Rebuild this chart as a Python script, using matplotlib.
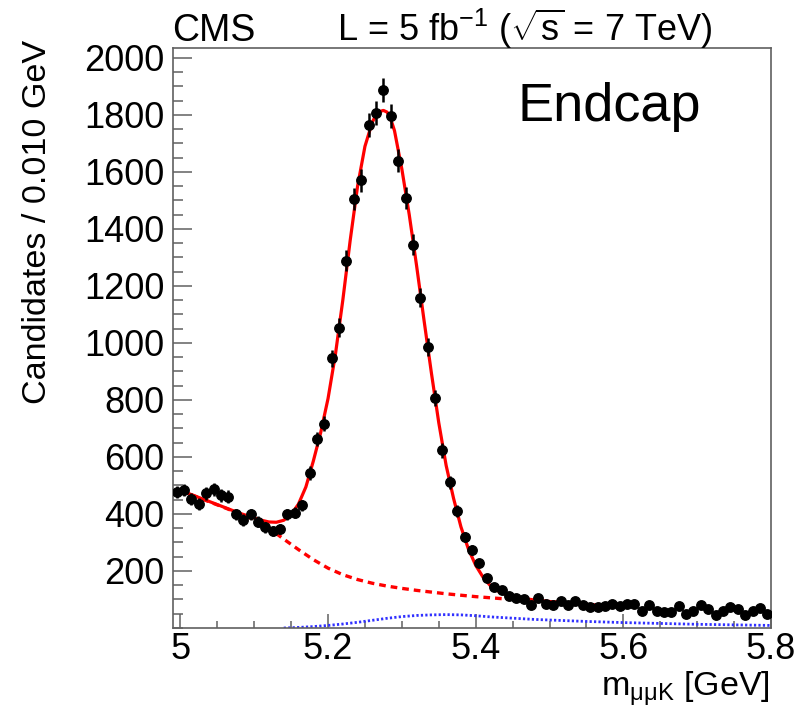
#!/usr/bin/env python3
"""
B+ -> J/psi K+ invariant mass fit, CMS endcap sample (ROOT-style plot)
"""

import matplotlib
matplotlib.use("Agg")
import matplotlib.pyplot as plt
from matplotlib.ticker import MultipleLocator
import numpy as np

# --- Data: candidates per 0.010 GeV bin, first bin centred at 4.995 GeV ---
counts = [
    477, 484, 454, 434, 472, 486, 465, 461, 399, 379,
    399, 372, 353, 341, 347, 399, 405, 430, 544, 663,
    717, 946, 1054, 1289, 1504, 1571, 1764, 1807, 1888, 1795,
    1640, 1510, 1345, 1159, 986, 806, 623, 512, 410, 318,
    273, 228, 175, 143, 134, 112, 105, 100, 79, 106,
    85, 81, 96, 79, 96, 81, 75, 73, 76, 85,
    77, 84, 85, 58, 81, 61, 56, 56, 77, 50,
    61, 81, 65, 46, 61, 73, 65, 44, 58, 70,
    50,
]
bin_first = 4.995
bin_width = 0.010

# Total fit (solid red)
fit_m = [5.00, 5.02, 5.04, 5.06, 5.08, 5.10, 5.11, 5.12, 5.13, 5.14,
         5.15, 5.16, 5.17, 5.18, 5.19, 5.20, 5.21, 5.22, 5.23, 5.24,
         5.25, 5.26, 5.265, 5.27, 5.275, 5.28, 5.285, 5.29, 5.30, 5.31,
         5.32, 5.33, 5.34, 5.35, 5.36, 5.37, 5.38, 5.39, 5.40, 5.41,
         5.42, 5.43, 5.44, 5.45, 5.46, 5.48, 5.50, 5.52, 5.54, 5.56,
         5.58, 5.60]
fit_total = [483, 463, 443, 423, 403, 386, 378, 372, 371, 378,
             398, 435, 495, 585, 685, 805, 960, 1150, 1360, 1550,
             1690, 1775, 1800, 1812, 1816, 1810, 1785, 1745, 1610, 1450,
             1270, 1080, 895, 720, 570, 455, 355, 278, 220, 178,
             148, 130, 118, 111, 106, 98, 93, 88, 83, 80,
             77, 75]

# Background component (dashed red)
bkg_m = [5.00, 5.02, 5.04, 5.06, 5.08, 5.10, 5.12, 5.14, 5.16, 5.18,
         5.20, 5.22, 5.24, 5.26, 5.28, 5.30, 5.32, 5.34, 5.36, 5.38,
         5.40, 5.42, 5.44, 5.46, 5.48, 5.50, 5.52, 5.54, 5.56, 5.58,
         5.60]
bkg_val = [482, 462, 442, 422, 401, 380, 350, 312, 275, 240,
           210, 187, 170, 157, 147, 139, 132, 126, 120, 115,
           110, 106, 102, 99, 95, 92, 88, 84, 81, 78,
           75]

# Peaking component (dotted blue)
pk_m = [5.14, 5.16, 5.18, 5.20, 5.22, 5.24, 5.26, 5.28, 5.30, 5.32,
        5.34, 5.36, 5.38, 5.40, 5.42, 5.44, 5.46, 5.48, 5.50, 5.55,
        5.60, 5.65, 5.70, 5.75, 5.80]
pk_val = [0, 2, 5, 9, 14, 20, 27, 34, 40, 44,
          46, 47, 46, 43, 39, 36, 33, 30, 28, 23,
          19, 16, 13, 11, 9]

mass = bin_first + bin_width * np.arange(len(counts))
counts = np.array(counts, dtype=float)
errors = np.sqrt(counts)

# --- Style ---
plt.rcParams["font.family"] = ["Liberation Sans", "DejaVu Sans"]
plt.rcParams["mathtext.fontset"] = "custom"
plt.rcParams["mathtext.rm"] = "Liberation Sans"
plt.rcParams["mathtext.it"] = "Liberation Sans:italic"
plt.rcParams["mathtext.sf"] = "Liberation Sans"

W, H = 799, 709
fig = plt.figure(figsize=(W / 100, H / 100), dpi=100)
ax = fig.add_axes([173 / W, 1 - 628 / H, (771 - 173) / W, (628 - 48) / H])

frame = "#606060"

ax.plot(pk_m, pk_val, color="#3030ff", lw=2.0, linestyle=(0, (0.8, 0.8)),
        zorder=2)
ax.plot(bkg_m, bkg_val, color="red", lw=2.4, linestyle=(0, (2.0, 1.5)),
        zorder=3)
ax.plot(fit_m, fit_total, color="red", lw=2.3, zorder=4)

ax.errorbar(mass, counts, yerr=errors, fmt="o", color="black",
            markersize=6.8, elinewidth=1.8, capsize=0, zorder=5)

ax.set_xlim(4.99, 5.8)
ax.set_ylim(0, 2035)

ax.xaxis.set_minor_locator(MultipleLocator(0.05))
ax.yaxis.set_minor_locator(MultipleLocator(50))
ax.set_yticks(np.arange(200, 2001, 200))
ax.set_xticks([5.0, 5.2, 5.4, 5.6, 5.8])
ax.set_xticklabels(["5", "5.2", "5.4", "5.6", "5.8"])

ax.tick_params(axis="both", which="both", direction="in", color=frame,
               top=False, right=False, labelsize=26, width=1.1)
ax.tick_params(axis="y", which="major", length=14, pad=6)
ax.tick_params(axis="y", which="minor", length=7)
ax.tick_params(axis="x", which="major", length=10, pad=3)
ax.tick_params(axis="x", which="minor", length=5)

for sp in ax.spines.values():
    sp.set_color(frame)
    sp.set_linewidth(1.2)

# Axis titles (ROOT style: aligned to the axis ends)
fig.text(38 / W, 1 - 40 / H, "Candidates / 0.010 GeV", rotation=90,
         ha="center", va="top", fontsize=24.6)
fig.text(770 / W, 1 - 697 / H, r"m$_{\mathrm{\mu\mu K}}$ [GeV]",
         ha="right", va="baseline", fontsize=24.5)

# Header
fig.text(172 / W, 1 - 41 / H, "CMS", ha="left", va="baseline", fontsize=27)
fig.text(712 / W, 1 - 41 / H,
         r"L = 5 fb$^{\mathrm{-1}}$ ($\sqrt{\mathrm{s}}$ = 7 TeV)",
         ha="right", va="baseline", fontsize=26)
fig.text(517 / W, 1 - 107 / H, "Endcap", ha="left", va="center",
         fontsize=39)

fig.savefig("out.png", dpi=100, facecolor="white")
